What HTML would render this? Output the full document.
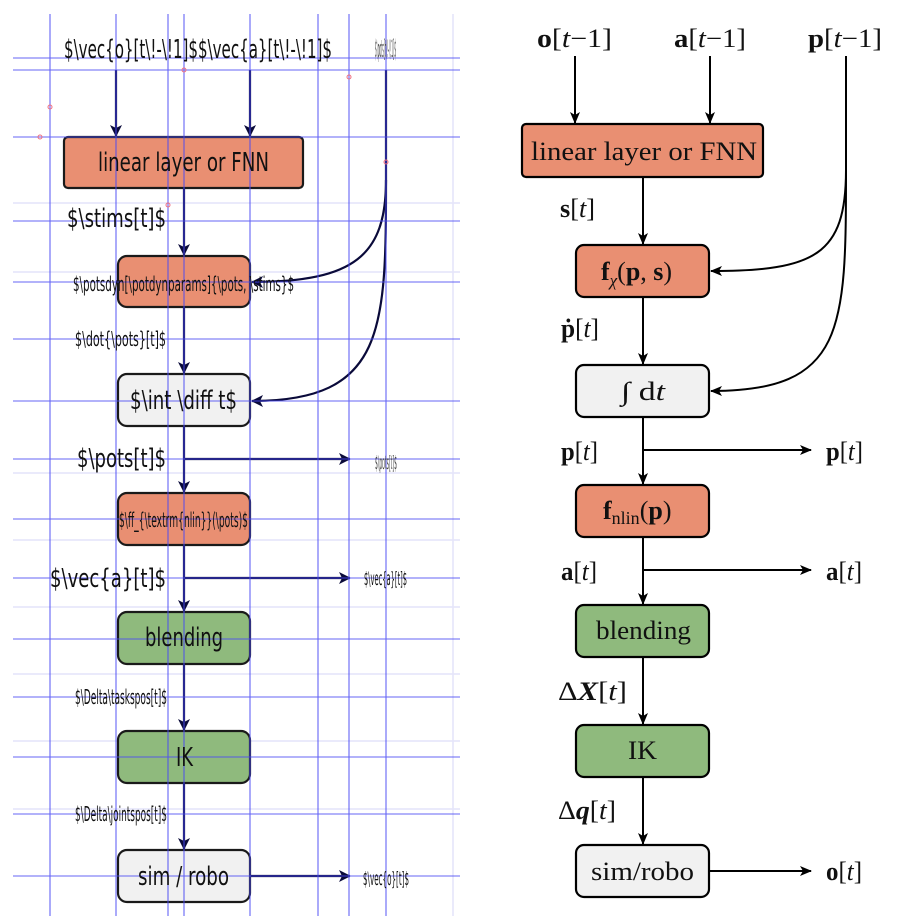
<!DOCTYPE html>
<html><head><meta charset="utf-8"><style>
html,body{margin:0;padding:0;background:#fff;width:922px;height:924px;overflow:hidden}
.l{font-family:"DejaVu Sans Condensed","DejaVu Sans","Liberation Sans",sans-serif;fill:#111}
.r{font-family:"Liberation Serif",serif;fill:#111;font-size:26px}
</style></head><body>
<svg width="922" height="924" viewBox="0 0 922 924" xmlns="http://www.w3.org/2000/svg">
<defs>
<marker id="ah" markerWidth="12" markerHeight="10" refX="11" refY="5" orient="auto" markerUnits="userSpaceOnUse"><path d="M0,0 L12,5 L0,10 L3,5 Z" fill="#000"/></marker>
<marker id="ahn" markerWidth="12" markerHeight="12" refX="11" refY="6" orient="auto" markerUnits="userSpaceOnUse"><path d="M0,0 L12,6 L0,12 L3,6 Z" fill="#0a0a3a"/></marker>
</defs>
<g stroke="#e4e4fa" stroke-width="1.5">
<line x1="13" y1="203" x2="460" y2="203"/><line x1="13" y1="272" x2="460" y2="272"/>
<line x1="13" y1="473" x2="460" y2="473"/><line x1="13" y1="540" x2="460" y2="540"/>
<line x1="13" y1="607" x2="460" y2="607"/><line x1="13" y1="674" x2="460" y2="674"/>
<line x1="13" y1="741" x2="460" y2="741"/><line x1="13" y1="809" x2="460" y2="809"/>
<line x1="453" y1="14" x2="453" y2="916"/>
</g>
<g stroke="#1a1a1a" stroke-width="2.2">
<rect x="64" y="137" width="239" height="51" rx="4" fill="#e98f72"/>
<rect x="118" y="256" width="132" height="51" rx="9" fill="#e98f72"/>
<rect x="118" y="374" width="132" height="52" rx="9" fill="#f1f1f1"/>
<rect x="118" y="493" width="132" height="52" rx="9" fill="#e98f72"/>
<rect x="118" y="612" width="132" height="52" rx="9" fill="#8fba7d"/>
<rect x="118" y="731" width="132" height="52" rx="9" fill="#8fba7d"/>
<rect x="118" y="850" width="132" height="52" rx="9" fill="#f1f1f1"/>
</g>
<g stroke="#0a0a3a" stroke-width="2.2" fill="none">
<line x1="116" y1="70" x2="116" y2="136" marker-end="url(#ahn)"/>
<line x1="250" y1="70" x2="250" y2="136" marker-end="url(#ahn)"/>
<line x1="184" y1="188" x2="184" y2="255" marker-end="url(#ahn)"/>
<line x1="184" y1="307" x2="184" y2="373" marker-end="url(#ahn)"/>
<line x1="184" y1="426" x2="184" y2="492" marker-end="url(#ahn)"/>
<line x1="184" y1="545" x2="184" y2="611" marker-end="url(#ahn)"/>
<line x1="184" y1="664" x2="184" y2="730" marker-end="url(#ahn)"/>
<line x1="184" y1="783" x2="184" y2="849" marker-end="url(#ahn)"/>
<line x1="184" y1="459" x2="350" y2="459" marker-end="url(#ahn)"/>
<line x1="184" y1="578" x2="350" y2="578" marker-end="url(#ahn)"/>
<line x1="250" y1="876" x2="350" y2="876" marker-end="url(#ahn)"/>
<line x1="386" y1="70" x2="386" y2="180"/>
<path d="M386,180 C386,255 355,282 252,282" marker-end="url(#ahn)"/>
<path d="M386,180 C386,330 385,401 252,401" marker-end="url(#ahn)"/>
</g>
<g stroke="#4a4af5" stroke-width="1.1" opacity="0.85">
<line x1="50" y1="14" x2="50" y2="916"/><line x1="116" y1="14" x2="116" y2="916"/>
<line x1="168" y1="14" x2="168" y2="916"/><line x1="184" y1="14" x2="184" y2="916"/>
<line x1="250" y1="14" x2="250" y2="916"/><line x1="318" y1="14" x2="318" y2="916"/>
<line x1="349" y1="14" x2="349" y2="916"/><line x1="386" y1="14" x2="386" y2="916"/>
<line x1="13" y1="58" x2="460" y2="58"/><line x1="13" y1="70" x2="460" y2="70"/>
<line x1="13" y1="137" x2="460" y2="137"/><line x1="13" y1="221" x2="460" y2="221"/>
<line x1="13" y1="282" x2="460" y2="282"/><line x1="13" y1="339" x2="460" y2="339"/>
<line x1="13" y1="401" x2="460" y2="401"/><line x1="13" y1="459" x2="460" y2="459"/>
<line x1="13" y1="519" x2="460" y2="519"/><line x1="13" y1="578" x2="460" y2="578"/>
<line x1="13" y1="639" x2="460" y2="639"/><line x1="13" y1="697" x2="460" y2="697"/>
<line x1="13" y1="757" x2="460" y2="757"/><line x1="13" y1="814" x2="460" y2="814"/>
<line x1="13" y1="876" x2="460" y2="876"/>
</g>
<g fill="none" stroke="#f07080" stroke-width="1">
<circle cx="50" cy="107" r="2"/><circle cx="40" cy="137" r="2"/><circle cx="349" cy="77" r="2"/><circle cx="168" cy="205" r="2"/><circle cx="386" cy="162" r="2"/><circle cx="184" cy="70" r="2"/>
</g>
<g class="l">
<text x="64" y="58" font-size="26" textLength="268" lengthAdjust="spacingAndGlyphs">$\vec{o}[t\!-\!1]$$\vec{a}[t\!-\!1]$</text>
<text x="375" y="57" font-size="24" textLength="21" lengthAdjust="spacingAndGlyphs" fill="#444">$\pots[t\!-\!1]$</text>
<text x="98" y="171" font-size="26" textLength="171" lengthAdjust="spacingAndGlyphs">linear layer or FNN</text>
<text x="67" y="227" font-size="26" textLength="99" lengthAdjust="spacingAndGlyphs">$\stims[t]$</text>
<text x="73" y="291" font-size="20" textLength="221" lengthAdjust="spacingAndGlyphs">$\potsdyn[\potdynparams]{\pots, \stims}$</text>
<text x="75" y="346" font-size="20" textLength="91" lengthAdjust="spacingAndGlyphs">$\dot{\pots}[t]$</text>
<text x="130" y="409" font-size="26" textLength="107" lengthAdjust="spacingAndGlyphs">$\int \diff t$</text>
<text x="77" y="467" font-size="26" textLength="89" lengthAdjust="spacingAndGlyphs">$\pots[t]$</text>
<text x="375" y="469" font-size="19" textLength="22" lengthAdjust="spacingAndGlyphs" fill="#444">$\pots[t]$</text>
<text x="119" y="527" font-size="20" textLength="129" lengthAdjust="spacingAndGlyphs">$\ff_{\textrm{nlin}}(\pots)$</text>
<text x="50" y="587" font-size="26" textLength="116" lengthAdjust="spacingAndGlyphs">$\vec{a}[t]$</text>
<text x="364" y="585" font-size="19" textLength="43" lengthAdjust="spacingAndGlyphs">$\vec{a}[t]$</text>
<text x="145" y="646" font-size="26" textLength="78" lengthAdjust="spacingAndGlyphs">blending</text>
<text x="75" y="704" font-size="20" textLength="92" lengthAdjust="spacingAndGlyphs">$\Delta\taskspos[t]$</text>
<text x="176" y="766" font-size="26" textLength="17" lengthAdjust="spacingAndGlyphs">IK</text>
<text x="75" y="821" font-size="20" textLength="92" lengthAdjust="spacingAndGlyphs">$\Delta\jointspos[t]$</text>
<text x="138" y="885" font-size="26" textLength="91" lengthAdjust="spacingAndGlyphs">sim / robo</text>
<text x="363" y="885" font-size="19" textLength="46" lengthAdjust="spacingAndGlyphs">$\vec{o}[t]$</text>
</g>

<g stroke="#000" stroke-width="2.2">
<rect x="522" y="124" width="241" height="53" rx="4" fill="#e98f72"/>
<rect x="576" y="245" width="133" height="52" rx="8" fill="#e98f72"/>
<rect x="576" y="365" width="133" height="52" rx="8" fill="#f1f1f1"/>
<rect x="576" y="485" width="133" height="52" rx="8" fill="#e98f72"/>
<rect x="576" y="605" width="133" height="52" rx="8" fill="#8fba7d"/>
<rect x="576" y="725" width="133" height="52" rx="8" fill="#8fba7d"/>
<rect x="576" y="845" width="133" height="52" rx="8" fill="#f1f1f1"/>
</g>
<g stroke="#000" stroke-width="2" fill="none">
<line x1="575" y1="56" x2="575" y2="123" marker-end="url(#ah)"/>
<line x1="710" y1="56" x2="710" y2="123" marker-end="url(#ah)"/>
<line x1="643" y1="177" x2="643" y2="244" marker-end="url(#ah)"/>
<line x1="643" y1="297" x2="643" y2="364" marker-end="url(#ah)"/>
<line x1="643" y1="417" x2="643" y2="484" marker-end="url(#ah)"/>
<line x1="643" y1="537" x2="643" y2="604" marker-end="url(#ah)"/>
<line x1="643" y1="657" x2="643" y2="724" marker-end="url(#ah)"/>
<line x1="643" y1="777" x2="643" y2="844" marker-end="url(#ah)"/>
<line x1="643" y1="450" x2="811" y2="450" marker-end="url(#ah)"/>
<line x1="643" y1="570" x2="811" y2="570" marker-end="url(#ah)"/>
<line x1="709" y1="871" x2="811" y2="871" marker-end="url(#ah)"/>
<line x1="846" y1="56" x2="846" y2="170"/>
<path d="M846,170 C846,255 815,271 711,271" marker-end="url(#ah)"/>
<path d="M846,170 C846,330 845,391 711,391" marker-end="url(#ah)"/>
</g>
<g class="r">
<text x="537" y="47" textLength="75" lengthAdjust="spacingAndGlyphs"><tspan font-weight="bold">o</tspan>[<tspan font-style="italic">t</tspan>−1]</text>
<text x="674" y="47" textLength="72" lengthAdjust="spacingAndGlyphs"><tspan font-weight="bold">a</tspan>[<tspan font-style="italic">t</tspan>−1]</text>
<text x="808" y="47" textLength="74" lengthAdjust="spacingAndGlyphs"><tspan font-weight="bold">p</tspan>[<tspan font-style="italic">t</tspan>−1]</text>
<text x="531" y="160" textLength="226" lengthAdjust="spacingAndGlyphs">linear layer or FNN</text>
<text x="560" y="217" textLength="35" lengthAdjust="spacingAndGlyphs"><tspan font-weight="bold">s</tspan>[<tspan font-style="italic">t</tspan>]</text>
<text x="601" y="280"><tspan font-weight="bold">f</tspan><tspan font-style="italic" font-size="17" dy="6">χ</tspan><tspan dy="-6">(</tspan><tspan font-weight="bold">p</tspan>, <tspan font-weight="bold">s</tspan>)</text>
<text x="561" y="337" textLength="38" lengthAdjust="spacingAndGlyphs"><tspan font-weight="bold">ṗ</tspan>[<tspan font-style="italic">t</tspan>]</text>
<text x="621" y="400" textLength="44" lengthAdjust="spacingAndGlyphs"><tspan font-style="italic">∫</tspan> d<tspan font-style="italic">t</tspan></text>
<text x="561" y="460" textLength="37" lengthAdjust="spacingAndGlyphs"><tspan font-weight="bold">p</tspan>[<tspan font-style="italic">t</tspan>]</text>
<text x="826" y="460" textLength="37" lengthAdjust="spacingAndGlyphs"><tspan font-weight="bold">p</tspan>[<tspan font-style="italic">t</tspan>]</text>
<text x="603" y="519"><tspan font-weight="bold">f</tspan><tspan font-size="18" dy="5">nlin</tspan><tspan dy="-5">(</tspan><tspan font-weight="bold">p</tspan>)</text>
<text x="561" y="580" textLength="36" lengthAdjust="spacingAndGlyphs"><tspan font-weight="bold">a</tspan>[<tspan font-style="italic">t</tspan>]</text>
<text x="826" y="580" textLength="36" lengthAdjust="spacingAndGlyphs"><tspan font-weight="bold">a</tspan>[<tspan font-style="italic">t</tspan>]</text>
<text x="596" y="639" textLength="95" lengthAdjust="spacingAndGlyphs">blending</text>
<text x="558" y="700" textLength="69" lengthAdjust="spacingAndGlyphs">Δ<tspan font-weight="bold" font-style="italic">X</tspan>[<tspan font-style="italic">t</tspan>]</text>
<text x="628" y="759" textLength="29" lengthAdjust="spacingAndGlyphs">IK</text>
<text x="558" y="819" textLength="58" lengthAdjust="spacingAndGlyphs">Δ<tspan font-weight="bold" font-style="italic">q</tspan>[<tspan font-style="italic">t</tspan>]</text>
<text x="591" y="880" textLength="103" lengthAdjust="spacingAndGlyphs">sim/robo</text>
<text x="826" y="880" textLength="36" lengthAdjust="spacingAndGlyphs"><tspan font-weight="bold">o</tspan>[<tspan font-style="italic">t</tspan>]</text>
</g>
</svg>
</body></html>
